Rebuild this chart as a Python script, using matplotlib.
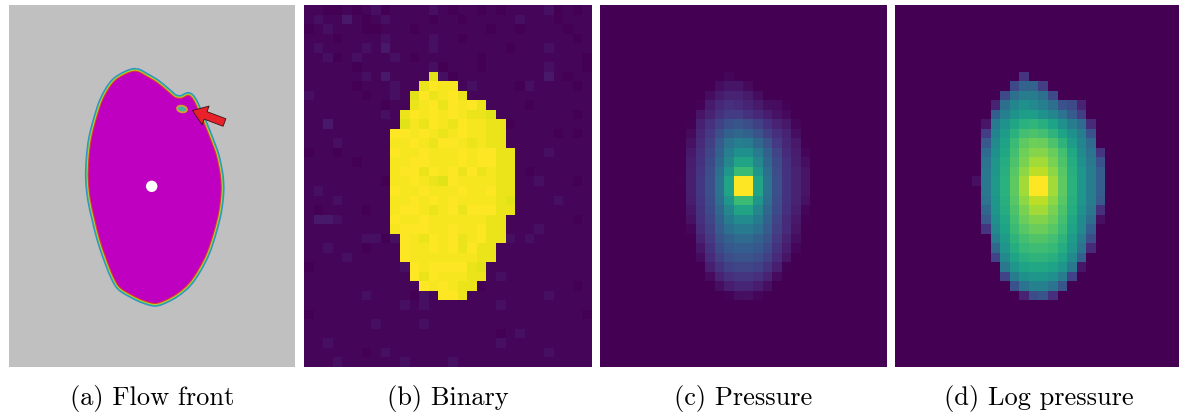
import numpy as np
import matplotlib.pyplot as plt
from matplotlib.path import Path
from matplotlib.patches import PathPatch, Circle, Ellipse, FancyArrow
import matplotlib.patheffects as pe

W, H = 1179, 414
n_rows, n_cols = 38, 30

captions = ["(a) Flow front", "(b) Binary", "(c) Pressure", "(d) Log pressure"]

# flow front outline (panel pixels, clockwise from the top)
front_x = [127.0, 137.7, 147.7, 157.7, 166.0, 172.7, 179.3, 183.7, 187.7, 194.3,
           201.0, 207.0, 211.0, 211.7, 209.3, 204.3, 197.7, 189.3, 179.3, 167.7,
           156.0, 146.0, 134.3, 122.7, 111.0, 104.3, 97.7, 91.0, 86.0, 81.7,
           79.7, 80.3, 82.7, 87.7, 94.3, 104.3, 116.0]
front_y = [66.7, 71.8, 77.8, 86.0, 92.8, 93.5, 90.8, 94.5, 102.5, 117.3,
           134.0, 150.7, 170.7, 187.3, 207.3, 227.3, 247.3, 264.0, 278.5, 288.5,
           295.0, 298.0, 295.0, 289.5, 282.0, 270.7, 254.0, 234.0, 214.0, 194.0,
           174.0, 154.0, 134.0, 114.0, 94.5, 78.0, 69.8]
inlet = (142.7, 181.3)
void = (173.0, 104.0)
arrow_tail = (215.5, 117.5)
arrow_tip = (183.5, 105.5)

# binary front: first / last filled column on each grid row
front_rows = list(range(7, 31))
front_left = [13, 12, 11, 11, 10, 10, 9, 9, 9, 9, 9, 9, 9, 9, 9, 9, 9,
              10, 10, 10, 11, 11, 12, 14]
front_right = [13, 15, 16, 18, 19, 20, 20, 20, 21, 21, 21, 21, 21, 21, 21,
               20, 20, 20, 19, 19, 18, 18, 17, 16]

# sensor noise level per cell (0 = darkest .. 3 = brightest)
binary_levels = [
    "110010120111121011010111120101",
    "121131012111101101111121110111",
    "012111001110111111101101111011",
    "111011112111121101111111111101",
    "121111213111121111111011121111",
    "112012111210111111011111111110",
    "111110111111120111011111121110",
    "111111213111102011111111131011",
    "111110111211132212111102111101",
    "211111011210312311111111111111",
    "111111110111231323111110111111",
    "111111112113232321101111111101",
    "113111111102132132211011111111",
    "111111111332321232211111110101",
    "111211111223213321211111111111",
    "011011111322322232331111121111",
    "111110111223322232331111111111",
    "111111111233132313121110111111",
    "111111110223210322221111211101",
    "121111111322322232231111111111",
    "111211111223232322221011112111",
    "101111011233212313331111111111",
    "133211111322322222211111111101",
    "111111111233322322311111211111",
    "111111220232132312311212111111",
    "112111011132232313111111111111",
    "111121111132222222111111111111",
    "011111111123233331011111111111",
    "111111111113132221112111111111",
    "111111111111323211011111111101",
    "111111211110213311111111121111",
    "111111111121211111112111111111",
    "011111111111111111111111111110",
    "111111121111211111111111111111",
    "111111111111111111110121111111",
    "112111111111111111112111111111",
    "111111012111111111111111121111",
    "111211111121111211111111111111",
]
background_shade = [0.0, 0.018, 0.04, 0.07]
front_shade = [0.955, 0.97, 0.985, 1.0]

# normalised log pressure (%), grid rows 7..30, columns 8..21
lp_row0, lp_col0 = 7, 8
log_pressure = [
    [0, 0, 0, 0, 0, 15, 0, 0, 0, 0, 0, 0, 0, 0],
    [0, 0, 0, 0, 22, 32, 32, 18, 0, 0, 0, 0, 0, 0],
    [0, 0, 0, 22, 37, 42, 42, 37, 22, 0, 0, 0, 0, 0],
    [0, 0, 10, 37, 46, 50, 48, 43, 37, 25, 22, 10, 0, 0],
    [0, 0, 30, 43, 51, 56, 56, 51, 46, 38, 29, 18, 0, 0],
    [0, 6, 41, 51, 59, 64, 66, 63, 58, 50, 42, 35, 12, 0],
    [0, 18, 45, 55, 64, 70, 72, 70, 65, 58, 50, 42, 25, 0],
    [0, 28, 48, 58, 68, 75, 78, 77, 72, 65, 55, 45, 35, 0],
    [0, 35, 50, 60, 70, 78, 82, 82, 77, 70, 60, 48, 38, 15],
    [0, 38, 52, 62, 72, 80, 86, 86, 80, 72, 62, 50, 40, 25],
    [0, 40, 53, 63, 74, 83, 90, 90, 83, 74, 63, 52, 42, 30],
    [4, 40, 54, 64, 75, 86, 100, 100, 86, 75, 64, 52, 42, 30],
    [0, 40, 54, 64, 75, 86, 100, 100, 86, 75, 64, 52, 42, 30],
    [0, 38, 53, 63, 74, 83, 90, 90, 83, 74, 63, 52, 42, 28],
    [0, 33, 52, 62, 72, 80, 86, 86, 80, 72, 62, 50, 40, 14],
    [0, 28, 50, 60, 70, 77, 81, 81, 77, 70, 60, 48, 36, 4],
    [0, 15, 47, 58, 68, 74, 77, 77, 74, 68, 58, 47, 30, 0],
    [0, 0, 42, 55, 65, 70, 73, 73, 70, 65, 55, 42, 24, 0],
    [0, 0, 33, 52, 62, 67, 69, 69, 67, 62, 52, 38, 12, 0],
    [0, 0, 20, 47, 58, 63, 65, 65, 63, 58, 48, 30, 0, 0],
    [0, 0, 0, 40, 52, 58, 60, 60, 58, 52, 40, 6, 0, 0],
    [0, 0, 0, 20, 42, 50, 53, 53, 50, 42, 20, 0, 0, 0],
    [0, 0, 0, 0, 25, 38, 44, 44, 38, 26, 0, 0, 0, 0],
    [0, 0, 0, 0, 0, 10, 24, 26, 14, 0, 0, 0, 0, 0],
]
p_max = 40.0

# panel boxes in pixels: left, top, width, height
boxes = [(9, 6, 286, 362), (304, 6, 287, 362), (600, 6, 287, 362), (895, 6, 287, 362)]

# ---- grids ----
mask = np.zeros((n_rows, n_cols), dtype=bool)
for r, a, b in zip(front_rows, front_left, front_right):
    mask[r, a:b + 1] = True
lev = np.array([[int(ch) for ch in row] for row in binary_levels])
binary = np.where(mask, np.take(front_shade, lev), np.take(background_shade, lev))

lp = np.zeros((n_rows, n_cols))
lp_arr = np.array(log_pressure, dtype=float) / 100.0
lp[lp_row0:lp_row0 + lp_arr.shape[0], lp_col0:lp_col0 + lp_arr.shape[1]] = lp_arr
pressure = np.expm1(lp * np.log1p(p_max)) / p_max

fig = plt.figure(figsize=(W / 100, H / 100), dpi=100)


def panel(box):
    x, y, w, h = box
    ax = fig.add_axes([x / W, 1 - (y + h) / H, w / W, h / H])
    ax.set_xticks([])
    ax.set_yticks([])
    for s in ax.spines.values():
        s.set_visible(False)
    return ax


# (a) flow front
ax = panel(boxes[0])
ax.set_facecolor("#c0c0c0")
ax.set_xlim(0, boxes[0][2])
ax.set_ylim(boxes[0][3], 0)

pts = np.column_stack([front_x, front_y])
n = len(pts)
verts = [pts[0]]
codes = [Path.MOVETO]
for i in range(n):
    p0, p1, p2, p3 = pts[i - 1], pts[i], pts[(i + 1) % n], pts[(i + 2) % n]
    verts += [p1 + (p2 - p0) / 6, p2 - (p3 - p1) / 6, p2]
    codes += [Path.CURVE4] * 3
outline = Path(verts, codes)
ax.add_patch(PathPatch(outline, fc="#c000c0", ec="none", path_effects=[
    pe.Stroke(linewidth=5.4, foreground="#2a8fd0"),
    pe.Stroke(linewidth=4.0, foreground="#36b888"),
    pe.Stroke(linewidth=2.7, foreground="#c9d42c"),
    pe.Stroke(linewidth=1.5, foreground="#e0402a"),
    pe.Normal()]))
ax.add_patch(Ellipse(void, 10, 6.5, angle=12, fc="#3fb9a6", ec="#d6a02c", lw=1.3))
ax.add_patch(Circle(inlet, 5.7, fc="white", ec="none"))
ax.add_patch(FancyArrow(arrow_tail[0], arrow_tail[1],
                        arrow_tip[0] - arrow_tail[0], arrow_tip[1] - arrow_tail[1],
                        width=8, head_width=20, head_length=14,
                        length_includes_head=True, fc="#e8212b", ec="#3a1212", lw=0.6))

# (b) binary, (c) pressure, (d) log pressure
for box, img in zip(boxes[1:], [binary, pressure, lp]):
    ax = panel(box)
    ax.imshow(img, cmap="viridis", vmin=0, vmax=1, aspect="auto",
              interpolation="nearest")

for box, text in zip(boxes, captions):
    cx = box[0] + box[2] / 2
    fig.text(cx / W, (H - 405) / H, text, ha="center", va="baseline",
             fontsize=19, family="cmr10")

fig.savefig("out.png", dpi=100)
